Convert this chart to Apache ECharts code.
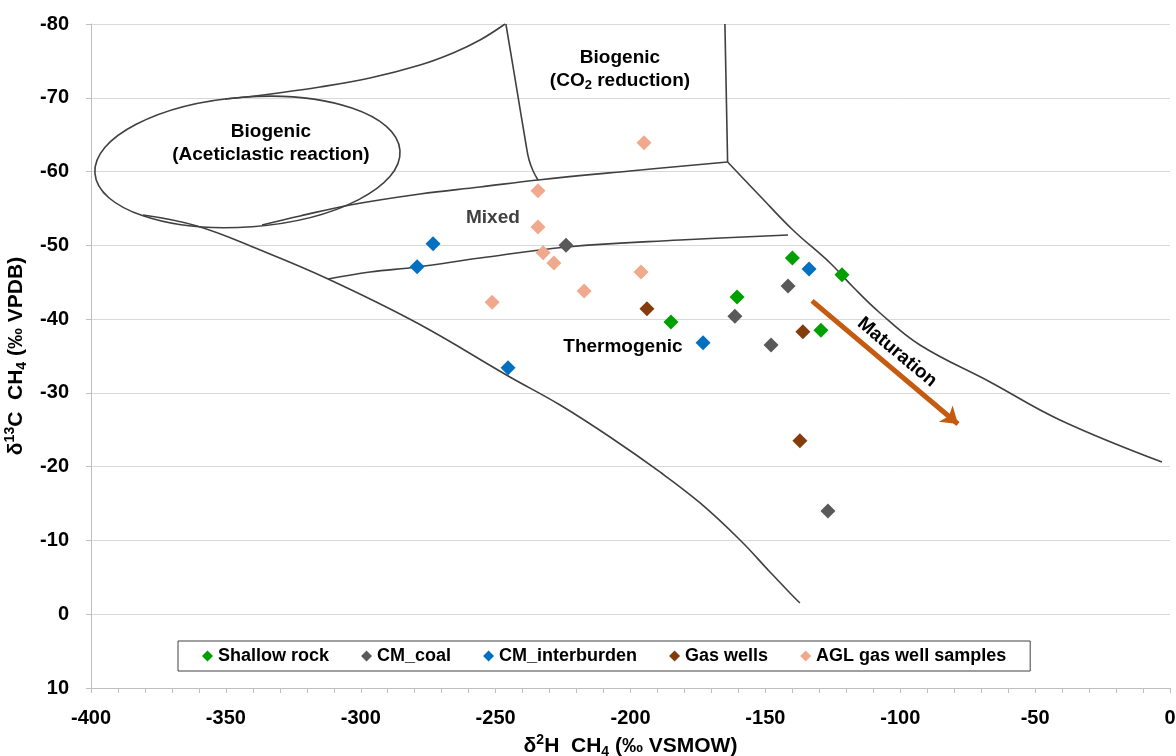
<!DOCTYPE html>
<html>
<head>
<meta charset="utf-8">
<title>δ13C vs δ2H of methane</title>
<script src="https://cdn.jsdelivr.net/npm/echarts@6/dist/echarts.min.js"></script>
<style>
  html, body { margin: 0; padding: 0; background: #ffffff; }
  #chart { width: 1176px; height: 756px; }
</style>
</head>
<body>
<div id="chart"></div>
<script>
// ---- Sample values: [δ2H CH4 (‰ VSMOW), δ13C CH4 (‰ VPDB)] ----
const shallowRock = [[-140.0, -48.3], [-121.6, -46.0], [-160.5, -43.0], [-185.0, -39.6], [-129.4, -38.5]];
const cmCoal = [[-223.9, -50.0], [-141.6, -44.5], [-161.3, -40.4], [-147.9, -36.5], [-126.8, -14.0]];
const cmInterburden = [[-273.2, -50.2], [-279.1, -47.1], [-133.8, -46.8], [-173.1, -36.8], [-245.4, -33.4]];
const gasWells = [[-193.9, -41.4], [-136.1, -38.3], [-137.2, -23.5]];
const aglSamples = [[-195.0, -63.9], [-234.3, -57.4], [-234.3, -52.5], [-232.4, -49.0], [-228.4, -47.6],
                    [-196.1, -46.4], [-217.2, -43.8], [-251.3, -42.3]];

const seriesNames = ['Shallow rock', 'CM_coal', 'CM_interburden', 'Gas wells', 'AGL gas well samples'];

// ---- Axis ranges ----
const xRange = { min: -400, max: 0, step: 50 };
const yRange = { min: -80, max: 10, step: 10 };

// ---- Genetic field boundaries (same units as the samples) ----
// Aceticlastic field: centre, half-extents along each axis, tilt in degrees
const aceticlasticField = { center: [-342.0, -61.3], halfX: 56.7, halfY: 8.8, tiltDeg: 4.3 };
const co2FieldUpperLeft = [[-350.3, -69.83], [-336.2, -70.38], [-315.1, -71.46], [-296.6, -72.68],
  [-278.0, -74.44], [-265.8, -76.07], [-255.8, -77.83], [-246.5, -80.0]];
const co2FieldLeft = [[-246.2, -80.0], [-242.4, -71.73], [-238.7, -63.6], [-237.6, -61.57],
  [-236.1, -60.08], [-234.3, -58.86]];
const co2FieldRight = [[-165.0, -80.0], [-164.0, -61.3]];
const mixedUpper = [[-336.6, -52.76], [-322.5, -53.98], [-304.0, -55.47], [-278.0, -56.96],
  [-255.8, -57.91], [-234.3, -58.86], [-200.2, -60.08], [-164.0, -61.3]];
const mixedLower = [[-312.1, -45.44], [-296.6, -46.39], [-279.1, -47.06], [-255.8, -48.28],
  [-223.5, -49.78], [-181.6, -50.72], [-141.6, -51.4]];
const thermogenicUpper = [[-164.0, -61.3], [-152.0, -56.69], [-139.8, -52.08], [-126.0, -47.61],
  [-117.5, -44.35], [-107.5, -40.83], [-92.7, -36.49], [-66.7, -31.48], [-40.8, -26.33], [-3.0, -20.63]];
const thermogenicLower = [[-380.7, -54.11], [-360.7, -52.62], [-337.3, -49.37], [-312.1, -45.44],
  [-279.1, -39.47], [-244.7, -32.16], [-226.1, -28.36], [-207.6, -24.02], [-189.1, -19.28],
  [-174.2, -15.08], [-159.4, -10.06], [-148.3, -5.73], [-140.9, -2.88], [-137.2, -1.52]];
const boundaries = [co2FieldUpperLeft, co2FieldLeft, co2FieldRight,
  mixedUpper, mixedLower, thermogenicUpper, thermogenicLower];

// Maturation trend arrow (start, end)
const maturationArrow = [[-132.7, -42.46], [-78.6, -25.78]];

// Field labels anchored in data units
const fieldLabels = [
  { text: '{t|Biogenic}\n{t|(Aceticlastic reaction)}', at: [-333.3, -63.9] },
  { text: '{t|Biogenic}\n{t|(CO}{s|2}{t| reduction)}', at: [-203.9, -73.9] },
  { text: '{m|Mixed}', at: [-251.0, -53.7] },
  { text: '{t|Thermogenic}', at: [-202.8, -36.2] },
  { text: '{t|Maturation}', at: [-101.2, -35.5], angle: -40 }
];

// ---- Styling ----
const FONT = "'Liberation Sans', Arial, Helvetica, sans-serif";
const colors = ['#00A000', '#595959', '#0070C0', '#843C0C', '#F0A98C'];
const axisGray = '#BFBFBF';
const lineColor = '#404040';

const chart = echarts.init(document.getElementById('chart'), null, { renderer: 'canvas' });

const sampleSets = [shallowRock, cmCoal, cmInterburden, gasWells, aglSamples];

const series = [];
boundaries.forEach(function (pts, i) {
  series.push({
    name: 'boundary' + i,
    type: 'line',
    data: pts,
    smooth: pts.length > 2 ? 0.4 : false,
    symbol: 'none',
    silent: true,
    z: 1,
    lineStyle: { color: lineColor, width: 1.6 }
  });
});
series.push({
  name: 'maturation',
  type: 'lines',
  coordinateSystem: 'cartesian2d',
  silent: true,
  z: 3,
  symbol: ['none', 'arrow'],
  symbolSize: 16,
  lineStyle: { color: '#C55A11', width: 5, opacity: 1 },
  data: [{ coords: maturationArrow }]
});
sampleSets.forEach(function (pts, i) {
  series.push({
    name: seriesNames[i],
    type: 'scatter',
    data: pts,
    symbol: 'diamond',
    symbolSize: 15,
    z: 5,
    itemStyle: { color: colors[i], opacity: 1 }
  });
});

const nameRich = {
  b: { fontSize: 21, fontWeight: 'bold', fontFamily: FONT, color: '#000', lineHeight: 26 },
  sup: { fontSize: 14, fontWeight: 'bold', fontFamily: FONT, color: '#000', verticalAlign: 'top', lineHeight: 14 },
  sub: { fontSize: 14, fontWeight: 'bold', fontFamily: FONT, color: '#000', verticalAlign: 'bottom', lineHeight: 14 }
};

chart.setOption({
  animation: false,
  backgroundColor: '#ffffff',
  textStyle: { fontFamily: FONT },
  grid: { left: 91, right: 6, top: 24, bottom: 68, containLabel: false, outerBoundsMode: 'none' },
  legend: {
    data: seriesNames,
    left: 178,
    top: 641,
    orient: 'horizontal',
    icon: 'diamond',
    itemWidth: 11,
    itemHeight: 11,
    itemGap: 32,
    padding: [6, 24, 6, 24],
    borderColor: lineColor,
    borderWidth: 1,
    backgroundColor: '#ffffff',
    selectedMode: false,
    textStyle: { fontSize: 18, fontWeight: 'bold', color: '#000', fontFamily: FONT }
  },
  xAxis: {
    type: 'value',
    min: xRange.min,
    max: xRange.max,
    interval: xRange.step,
    position: 'bottom',
    name: '{b|δ}{sup|2}{b|H  CH}{sub|4}{b| (‰ VSMOW)}',
    nameLocation: 'middle',
    nameGap: 44,
    nameTextStyle: { rich: nameRich },
    axisLine: { show: true, onZero: false, lineStyle: { color: axisGray, width: 1 } },
    axisTick: { show: true, length: 5, lineStyle: { color: axisGray } },
    minorTick: { show: true, splitNumber: 5, length: 5, lineStyle: { color: axisGray } },
    splitLine: { show: false },
    axisLabel: { color: '#000', fontSize: 20, fontWeight: 'bold', fontFamily: FONT, margin: 20 }
  },
  yAxis: {
    type: 'value',
    inverse: true,
    min: yRange.min,
    max: yRange.max,
    interval: yRange.step,
    name: '{b|δ}{sup|13}{b|C  CH}{sub|4}{b| (‰ VPDB)}',
    nameLocation: 'middle',
    nameRotate: 90,
    nameGap: 62,
    nameMoveOverlap: false,
    nameTextStyle: { rich: nameRich },
    axisLine: { show: true, onZero: false, lineStyle: { color: axisGray, width: 1 } },
    axisTick: { show: true, length: 5, lineStyle: { color: axisGray } },
    splitLine: { show: true, lineStyle: { color: '#D9D9D9', width: 1 } },
    axisLabel: { color: '#000', fontSize: 20, fontWeight: 'bold', fontFamily: FONT, margin: 22 }
  },
  series: series
});

// Aceticlastic ellipse and field names, placed through the grid's scales
const labelRich = {
  t: { fontSize: 19, fontWeight: 'bold', fontFamily: FONT, fill: '#000', lineHeight: 23 },
  m: { fontSize: 19, fontWeight: 'bold', fontFamily: FONT, fill: '#404040', lineHeight: 23 },
  s: { fontSize: 13, fontWeight: 'bold', fontFamily: FONT, fill: '#000', lineHeight: 12, verticalAlign: 'bottom' }
};
const toPx = function (pt) { return chart.convertToPixel({ gridIndex: 0 }, pt); };
const ec = toPx(aceticlasticField.center);
const ex = toPx([aceticlasticField.center[0] + aceticlasticField.halfX, aceticlasticField.center[1]]);
const ey = toPx([aceticlasticField.center[0], aceticlasticField.center[1] + aceticlasticField.halfY]);
const graphics = [{
  type: 'ellipse',
  x: ec[0],
  y: ec[1],
  rotation: aceticlasticField.tiltDeg * Math.PI / 180,
  silent: true,
  z: 1,
  shape: { cx: 0, cy: 0, rx: Math.abs(ex[0] - ec[0]), ry: Math.abs(ey[1] - ec[1]) },
  style: { fill: 'none', stroke: lineColor, lineWidth: 1.6 }
}];
fieldLabels.forEach(function (lab) {
  const p = toPx(lab.at);
  graphics.push({
    type: 'text',
    x: p[0],
    y: p[1],
    rotation: (lab.angle || 0) * Math.PI / 180,
    silent: true,
    z: 10,
    style: { text: lab.text, rich: labelRich, align: 'center', verticalAlign: 'middle' }
  });
});
chart.setOption({ graphic: graphics });
</script>
</body>
</html>
